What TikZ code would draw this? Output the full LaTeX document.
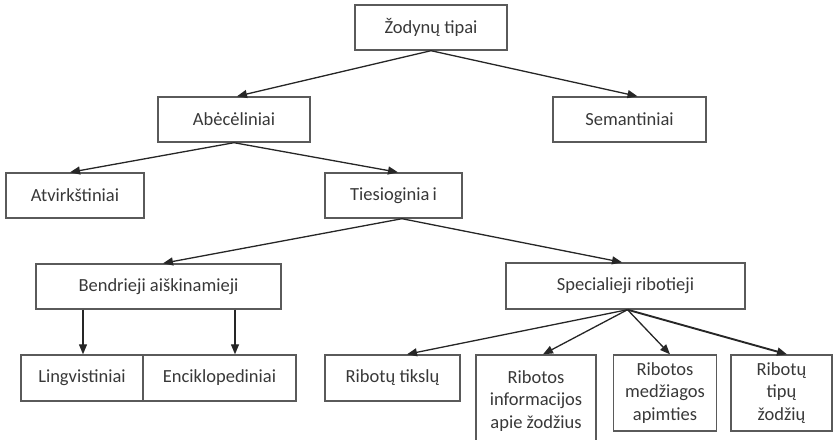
\documentclass[tikz,border=0pt]{standalone}
\usepackage{fontspec}
\setmainfont{Carlito}
\usetikzlibrary{arrows.meta}
\definecolor{boxline}{HTML}{5A5A5A}
\definecolor{txt}{HTML}{383838}
\begin{document}
\begin{tikzpicture}[x=1pt,y=-1pt,
  box/.style={draw=boxline,line width=1.4pt,rectangle,inner sep=0pt,
    text=txt,font=\fontsize{18.5}{22.5}\selectfont,align=center},
  link/.style={draw=black!85,line width=1.3pt,
    -{Triangle[length=10pt,width=8pt]}},
]
\useasboundingbox (0,0) rectangle (840,439);
\clip (0,0) rectangle (840,439);
% levels of the tree
\node[box,minimum width=152pt,minimum height=45pt] (root) at (431,27.5) {Žodynų tipai};
\node[box,minimum width=152pt,minimum height=45pt] (abc) at (234,119.5) {Abėcėliniai};
\node[box,minimum width=153pt,minimum height=45pt] (sem) at (629.5,119.5) {Semantiniai};
\node[box,minimum width=138pt,minimum height=45pt] (atv) at (75,195.5) {Atvirkštiniai};
\node[box,minimum width=137pt,minimum height=45pt] (ties) at (393.5,195.5) {Tiesioginia\,i};
\node[box,minimum width=245pt,minimum height=45pt] (bendr) at (158.5,286.5) {Bendrieji aiškinamieji};
\node[box,minimum width=239pt,minimum height=46pt] (spec) at (625.5,286) {Specialieji ribotieji};
\node[box,minimum width=122pt,minimum height=46pt] (ling) at (82,378) {Lingvistiniai};
\node[box,minimum width=153pt,minimum height=46pt] (enc) at (219.5,378) {Enciklopediniai};
\node[box,minimum width=135pt,minimum height=46pt] (tiksl) at (392.5,378) {Ribotų tikslų};
\node[box,minimum width=120pt,minimum height=92pt] (info) at (536,401) {Ribotos\\informacijos\\apie žodžius};
\node[box,minimum width=103pt,minimum height=76pt] (medz) at (665,393) {Ribotos\\medžiagos\\apimties};
\node[box,minimum width=101pt,minimum height=76pt] (tipu) at (781.5,393) {Ribotų\\tipų\\žodžių};
% connectors
\draw[link] (root.south) -- ([xshift=3pt]abc.north);
\draw[link] (root.south) -- ([xshift=8pt]sem.north);
\draw[link] (abc.south) -- ([xshift=-5pt]atv.north);
\draw[link] (abc.south) -- ([xshift=4.5pt]ties.north);
\draw[link] ([xshift=8.5pt]ties.south) -- ([xshift=4.5pt]bendr.north);
\draw[link] ([xshift=8.5pt]ties.south) -- ([xshift=-3.5pt]spec.north);
\draw[link] ([xshift=-75.5pt]bendr.south) -- ([xshift=1pt]ling.north);
\draw[link] ([xshift=76.5pt]bendr.south) -- ([xshift=15.5pt]enc.north);
\draw[link] ([xshift=2pt]spec.south) -- ([xshift=14.5pt]tiksl.north);
\draw[link] ([xshift=2pt]spec.south) -- ([xshift=7pt]info.north);
\draw[link] ([xshift=2pt]spec.south) -- ([xshift=5pt]medz.north);
\draw[link,line width=1.9pt] ([xshift=2pt]spec.south) -- ([xshift=5.5pt]tipu.north);
\end{tikzpicture}
\end{document}
